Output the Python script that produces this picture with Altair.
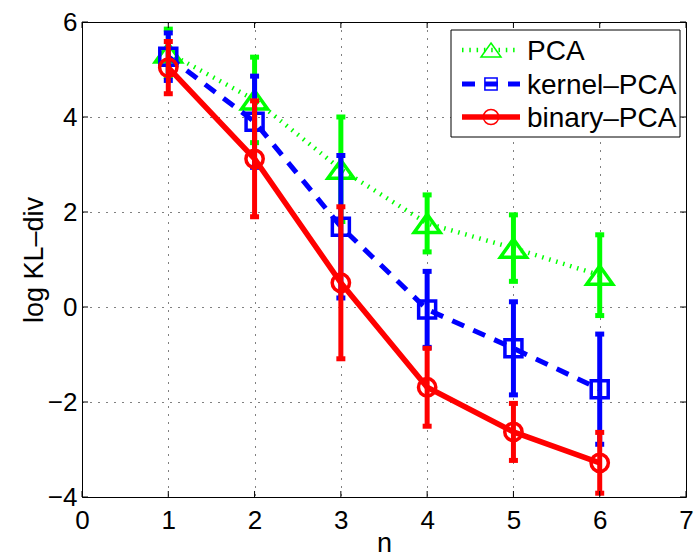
import altair as alt
import pandas as pd

# Mean log KL-divergence and error half-widths per number of components n
n_values = [1, 2, 3, 4, 5, 6]
series_names = ["PCA", "kernel–PCA", "binary–PCA"]
pca_mean = [5.35, 4.36, 2.90, 1.76, 1.24, 0.67]
pca_err = [0.50, 0.90, 1.10, 0.60, 0.70, 0.85]
kpca_mean = [5.27, 3.90, 1.69, -0.05, -0.87, -1.73]
kpca_err = [0.50, 0.96, 1.50, 0.80, 0.98, 1.16]
bpca_mean = [5.04, 3.12, 0.51, -1.69, -2.63, -3.28]
bpca_err = [0.55, 1.22, 1.60, 0.82, 0.60, 0.64]

x_ticks = [0, 1, 2, 3, 4, 5, 6, 7]
y_ticks = [-4, -2, 0, 2, 4, 6]

FONT = "Liberation Sans"
W, H = 604, 475

tri_path = "M0,-0.7L1,0.7L-1,0.7Z"

styles = {
    "PCA": dict(color="#00ff00", width=4.5, dash=[1.5, 5.8], shape=tri_path, size=676,
                lw=1.5, lsize=400, lshape=tri_path),
    "kernel–PCA": dict(color="#0000ff", width=5, dash=[13, 10], shape="square", size=289,
                       lw=1.5, lsize=150, lshape="square"),
    "binary–PCA": dict(color="#ff0000", width=5.5, dash=None, shape="circle", size=300,
                       lw=1.5, lsize=230, lshape="circle"),
}

means = {"PCA": pca_mean, "kernel–PCA": kpca_mean, "binary–PCA": bpca_mean}
errs = {"PCA": pca_err, "kernel–PCA": kpca_err, "binary–PCA": bpca_err}


def frame(name):
    m, e = means[name], errs[name]
    return pd.DataFrame({
        "n": n_values,
        "mean": m,
        "lo": [a - b for a, b in zip(m, e)],
        "hi": [a + b for a, b in zip(m, e)],
    })


x_scale = alt.Scale(domain=[0, 7], nice=False, zero=False)
y_scale = alt.Scale(domain=[-4, 6], nice=False, zero=False)

x_axis = alt.Axis(values=x_ticks, grid=True, ticks=False, domain=False,
                  labelFontSize=26, labelPadding=10, labelFont=FONT, labelColor="black",
                  title="n", titleFont=FONT, titleFontSize=27, titleFontWeight="normal",
                  titleColor="black", titleBaseline="alphabetic", titleY=54,
                  gridColor="black", gridDash=[1, 7], gridWidth=1, gridOpacity=1,
                  labelFlush=False)
y_axis = alt.Axis(values=y_ticks, grid=True, ticks=False, domain=False,
                  labelFontSize=26, labelPadding=5, labelFont=FONT, labelColor="black",
                  title="log KL–div", titleFont=FONT, titleFontSize=27,
                  titleFontWeight="normal", titleColor="black",
                  titleBaseline="alphabetic", titleX=-40, titleY=H / 2,
                  gridColor="black", gridDash=[1, 7], gridWidth=1, gridOpacity=1,
                  labelFlush=False)


def X(field):
    return alt.X(f"{field}:Q", scale=x_scale, axis=x_axis)


def Y(field):
    return alt.Y(f"{field}:Q", scale=y_scale, axis=y_axis)


layers = []
for name in series_names:
    st = styles[name]
    df = frame(name)
    line_kw = dict(color=st["color"], strokeWidth=st["width"], strokeCap="butt")
    if st["dash"]:
        line_kw["strokeDash"] = st["dash"]
    layers.append(alt.Chart(df).mark_line(**line_kw).encode(x=X("n"), y=Y("mean")))
    layers.append(
        alt.Chart(df).mark_rule(color=st["color"], strokeWidth=5)
        .encode(x=X("n"), y=Y("lo"), y2="hi:Q")
    )
    for end in ["lo", "hi"]:
        layers.append(
            alt.Chart(df).mark_tick(color=st["color"], orient="horizontal",
                                    size=9, thickness=5, opacity=1)
            .encode(x=X("n"), y=Y(end))
        )
    layers.append(
        alt.Chart(df).mark_point(shape=st["shape"], size=st["size"], filled=False,
                                 color=st["color"], strokeWidth=3.5, opacity=1)
        .encode(x=X("n"), y=Y("mean"))
    )

# Inward tick marks on all four sides of the box
xt = pd.DataFrame({"v": x_ticks})
yt = pd.DataFrame({"v": y_ticks})
tick_style = dict(color="black", strokeWidth=1)
layers += [
    alt.Chart(xt).mark_rule(**tick_style).encode(x=X("v"), y=alt.value(H), y2=alt.value(H - 6)),
    alt.Chart(xt).mark_rule(**tick_style).encode(x=X("v"), y=alt.value(0), y2=alt.value(6)),
    alt.Chart(yt).mark_rule(**tick_style).encode(y=Y("v"), x=alt.value(0), x2=alt.value(6)),
    alt.Chart(yt).mark_rule(**tick_style).encode(y=Y("v"), x=alt.value(W), x2=alt.value(W - 6)),
]

# Legend box in the upper right corner
one = pd.DataFrame({"k": [0]})
layers.append(
    alt.Chart(one).mark_rect(fill="white", stroke="black", strokeWidth=1)
    .encode(x=alt.value(369), x2=alt.value(598), y=alt.value(8), y2=alt.value(115))
)
rows = [28, 62, 95]
for name, ry in zip(series_names, rows):
    st = styles[name]
    kw = dict(color=st["color"], strokeWidth=st["width"], strokeCap="butt")
    if st["dash"]:
        kw["strokeDash"] = st["dash"]
    layers.append(
        alt.Chart(one).mark_rule(**kw)
        .encode(x=alt.value(380), x2=alt.value(438), y=alt.value(ry))
    )
    layers.append(
        alt.Chart(one).mark_point(shape=st["lshape"], size=st["lsize"], filled=False,
                                  color=st["color"], strokeWidth=st["lw"], opacity=1)
        .encode(x=alt.value(409), y=alt.value(ry))
    )
    layers.append(
        alt.Chart(one).mark_text(text=name, align="left", baseline="middle",
                                 font=FONT, fontSize=28, color="black")
        .encode(x=alt.value(445), y=alt.value(ry + 1.5))
    )

chart = (
    alt.layer(*layers)
    .properties(
        width=W, height=H,
        padding={"left": 82, "top": 22, "right": 10, "bottom": 59},
        autosize=alt.AutoSizeParams(type="none"),
        background="white",
    )
    .configure_view(stroke="black", strokeWidth=1)
)

chart.save("out.html", embed_options={"renderer": "svg", "actions": False})
